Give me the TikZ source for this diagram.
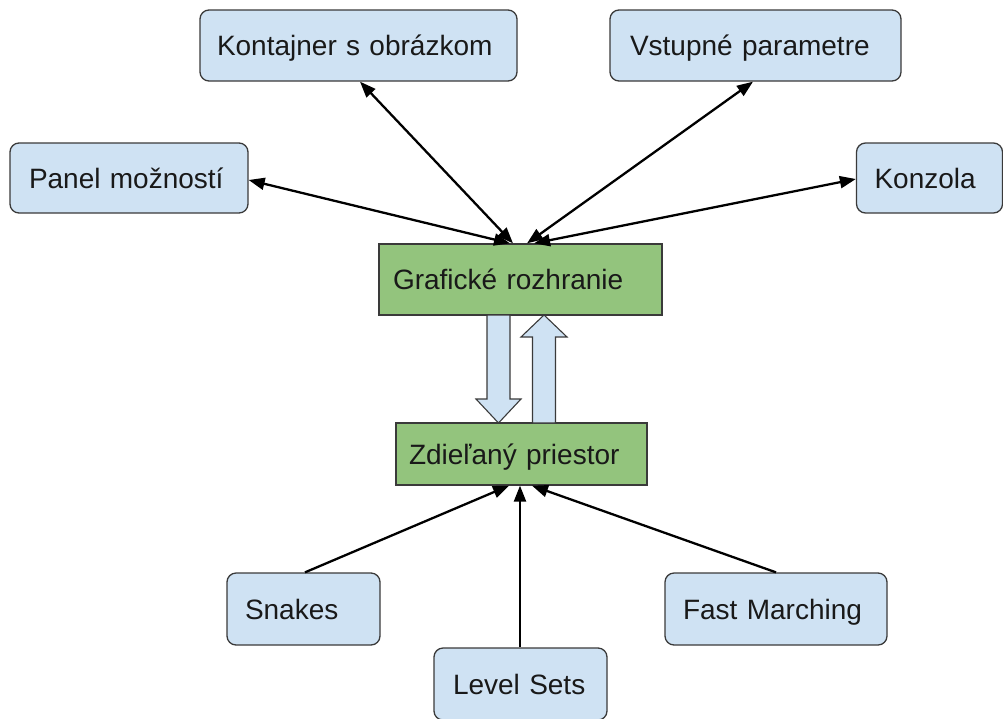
\documentclass[tikz,border=0pt]{standalone}
\usepackage{fontspec}
\setmainfont{Liberation Sans}
\usetikzlibrary{arrows.meta,calc}
\definecolor{boxblue}{HTML}{CFE2F3}
\definecolor{boxgreen}{HTML}{93C47D}
\definecolor{edgegray}{HTML}{3A3A3A}
\begin{document}
\begin{tikzpicture}[x=1pt,y=-1pt,
  base/.style={draw=edgegray,line width=1.3pt,inner ysep=0pt,align=left,
    text height=20pt,text depth=0pt,
    font=\fontsize{28}{32}\selectfont,text=black!90},
  bluebox/.style={base,fill=boxblue,rounded corners=9pt},
  greenbox/.style={base,fill=boxgreen},
  conn/.style={line width=2.3pt,black,-{Triangle[length=16pt,width=12pt]}},
  biconn/.style={line width=2.3pt,black,{Triangle[length=16pt,width=12pt]}-{Triangle[length=16pt,width=12pt]}},
  blockarrow/.style={fill=boxblue,draw=edgegray,line width=1.1pt,line join=miter}
]
\useasboundingbox (0,0) rectangle (1003,718);
% nodes: inner xsep = left padding, text width = W - 2*pad
\node[bluebox,inner xsep=17pt,text width=283pt,minimum height=71pt] (kont) at (358.5,45.5) {Kontajner s obrázkom};
\node[bluebox,inner xsep=20pt,text width=251pt,minimum height=71pt] (vst) at (755.5,45.5) {Vstupné parametre};
\node[bluebox,inner xsep=19pt,text width=200pt,minimum height=70pt] (panel) at (129,178) {Panel možností};
\node[bluebox,inner xsep=18pt,text width=110pt,minimum height=70pt] (konz) at (929.5,178) {Konzola};
\node[greenbox,inner xsep=14pt,text width=255pt,minimum height=71pt] (graf) at (520.5,279.5) {Grafické rozhranie};
\node[greenbox,inner xsep=13pt,text width=225pt,minimum height=62pt] (zdiel) at (521.5,454) {Zdieľaný priestor};
\node[bluebox,inner xsep=18pt,text width=117pt,minimum height=72pt] (snakes) at (303.5,609) {Snakes};
\node[bluebox,inner xsep=19pt,text width=135pt,minimum height=72pt] (ls) at (520.5,684) {Level Sets};
\node[bluebox,inner xsep=18pt,text width=186pt,minimum height=72pt] (fm) at (776,609) {Fast Marching};
% top connectors
\draw[biconn] ([xshift=1.5pt]kont.south) -- ([xshift=-7.5pt]graf.north);
\draw[biconn] ([yshift=-2pt]panel.east) -- ([xshift=-10.5pt]graf.north);
\draw[biconn] ([xshift=-2.5pt]vst.south) -- ([xshift=6.5pt]graf.north);
\draw[biconn] ([yshift=-1pt]konz.west) -- ([xshift=13.5pt]graf.north);
% bottom connectors
\draw[conn] ([xshift=1.5pt]snakes.north) -- ([xshift=-12.5pt]zdiel.south);
\draw[conn] ([xshift=-0.5pt]ls.north) -- ([xshift=-1.5pt]zdiel.south);
\draw[conn] (fm.north) -- ([xshift=10.5pt]zdiel.south);
% block arrows between graf and zdiel
\draw[blockarrow] (487,315) -- (510,315) -- (510,399) -- (521,399) -- (498.5,423) -- (476,399) -- (487,399) -- cycle;
\draw[blockarrow] (532.5,423) -- (555.5,423) -- (555.5,337) -- (567,337) -- (544,315) -- (521,337) -- (532.5,337) -- cycle;
\end{tikzpicture}
\end{document}
